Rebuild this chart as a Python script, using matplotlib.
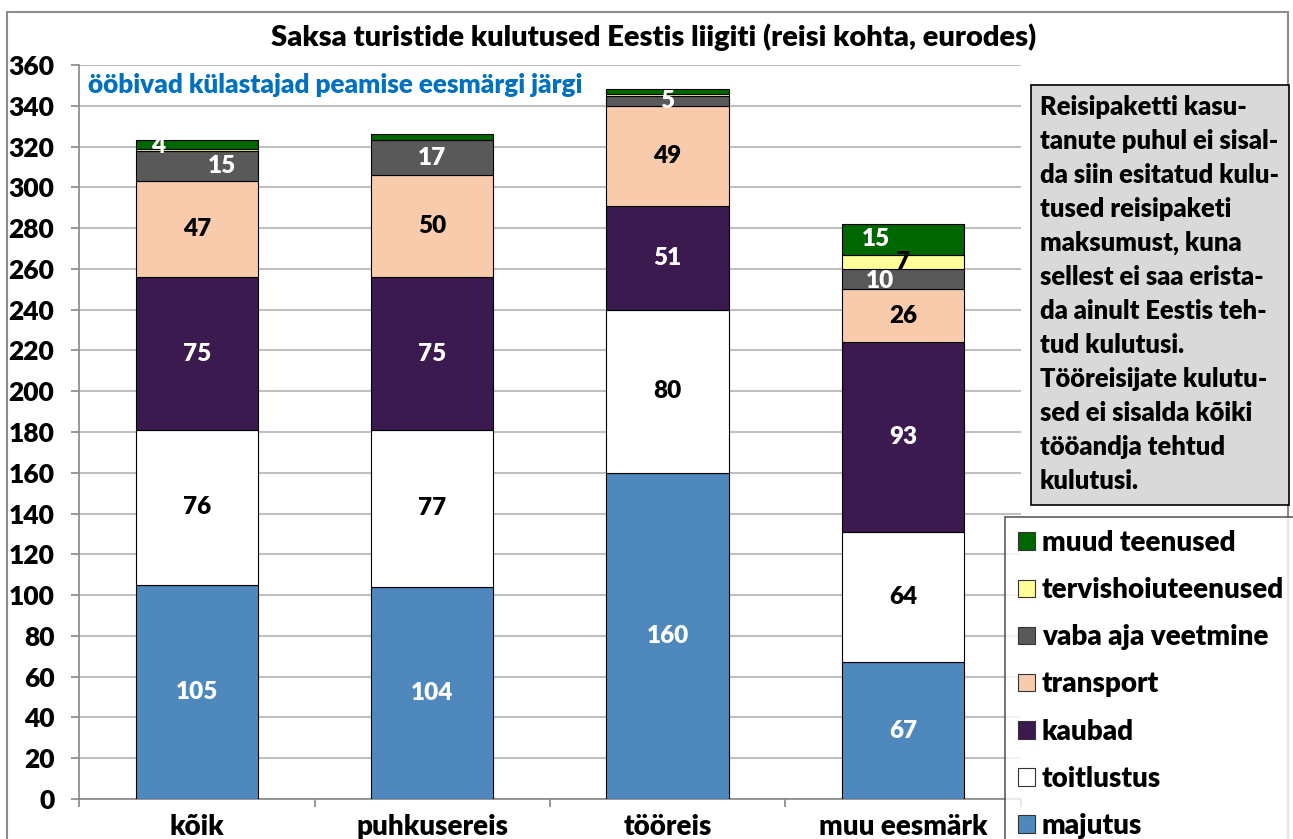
import matplotlib
matplotlib.use("Agg")
import matplotlib.pyplot as plt
from matplotlib.patches import Rectangle, Patch
import numpy as np

plt.rcParams['font.family'] = ['Lato', 'DejaVu Sans']
plt.rcParams['font.weight'] = 'heavy'
WT = 'heavy'

# data (eurot reisi kohta)
categories = ["kõik", "puhkusereis", "tööreis", "muu eesmärk"]
series = ["majutus", "toitlustus", "kaubad", "transport",
          "vaba aja veetmine", "tervishoiuteenused", "muud teenused"]
majutus = [105, 104, 160, 67]
toitlustus = [76, 77, 80, 64]
kaubad = [75, 75, 51, 93]
transport = [47, 50, 49, 26]
vaba_aja = [15, 17, 5, 10]
tervishoid = [1, 0, 1, 7]
muud = [4, 3, 2, 15]
values = [majutus, toitlustus, kaubad, transport, vaba_aja, tervishoid, muud]

title = "Saksa turistide kulutused Eestis liigiti (reisi kohta, eurodes)"
subtitle = "ööbivad külastajad peamise eesmärgi järgi"
note = ("Reisipaketti kasu-\ntanute puhul ei sisal-\nda siin esitatud kulu-\n"
        "tused reisipaketi\nmaksumust, kuna\nsellest ei saa erista-\n"
        "da ainult Eestis teh-\ntud kulutusi.\nTööreisijate kulutu-\n"
        "sed ei sisalda kõiki\ntööandja tehtud\nkulutusi.")

colors = ["#4f88bd", "#ffffff", "#3b1a4f", "#f8cbad", "#595959", "#ffff99", "#006600"]
label_colors = ["white", "black", "white", "black", "white", "black", "white"]
# manual label nudges (category index, series index) -> dx in category units
label_dx = {(0, 4): 0.106, (0, 6): -0.166, (3, 6): -0.115, (3, 4): -0.098}
label_dy = {(0, 6): -0.5, (3, 4): -1.0}

W, H = 1293, 839
fig = plt.figure(figsize=(W / 100, H / 100), dpi=100)

# outer chart frame
fig.patches.append(Rectangle((7 / W, -0.05), 1281 / W, 1.05 - 12 / H,
                             transform=fig.transFigure, fill=False,
                             edgecolor="#8c8c8c", lw=1.5))

ax = fig.add_axes([79.3 / W, 40 / H, 941.2 / W, 734 / H])
x = np.arange(len(categories))
bottom = np.zeros(len(categories))
handles = []
for i, (name, vals) in enumerate(zip(series, values)):
    vals = np.array(vals, dtype=float)
    bars = ax.bar(x, vals, 0.52, bottom=bottom, color=colors[i],
                  edgecolor="black", linewidth=0.8, zorder=3)
    handles.append(Patch(facecolor=colors[i], edgecolor="#333333", linewidth=0.8, label=name))
    for j, v in enumerate(vals):
        if v >= 4:
            ax.text(x[j] + label_dx.get((j, i), 0), bottom[j] + v / 2 + label_dy.get((j, i), 0),
                    f"{v:.0f}", ha="center", va="center", color=label_colors[i],
                    fontsize=17.5, fontweight=WT, zorder=4)
    bottom += vals

ax.set_xlim(-0.5, 3.5)
ax.set_ylim(0, 360)
ax.set_yticks(np.arange(0, 361, 20))
ax.yaxis.grid(True, color="#c0c0c0", lw=1.5, zorder=0)
ax.set_axisbelow(True)
for s in ["top", "right"]:
    ax.spines[s].set_visible(False)
for s in ["left", "bottom"]:
    ax.spines[s].set_color("#868686")
    ax.spines[s].set_linewidth(1.2)
ax.tick_params(axis="y", length=6, width=1.2, color="#868686", pad=12, labelsize=19)
ax.set_xticks(x)
ax.set_xticklabels(categories, fontsize=20, fontweight=WT)
ax.set_xticks(np.arange(-0.5, 4, 1), minor=True)
ax.tick_params(axis="x", which="major", length=0, pad=11)
ax.tick_params(axis="x", which="minor", length=6, width=1.2, color="#868686")
for t in ax.get_yticklabels():
    t.set_fontweight(WT)

fig.text(654 / W, 1 - 37 / H, title, ha="center", va="center", fontsize=21, fontweight=WT)
ax.text(88 / W, 1 - 85 / H, subtitle, transform=fig.transFigure, ha="left", va="center",
        fontsize=18.8, fontweight=WT, color="#0070c0")

# note box
fig.patches.append(Rectangle((1031 / W, 1 - 505 / H), 258 / W, 420 / H,
                             transform=fig.transFigure, facecolor="#d9d9d9",
                             edgecolor="black", lw=1.2))
fig.text(1040 / W, 1 - 95 / H, note, ha="left", va="top", fontsize=18.4,
         fontweight=WT, linespacing=1.5)

leg = fig.legend(handles=handles[::-1], loc="upper left",
                 bbox_to_anchor=(1005 / W, 1 - 517 / H), frameon=True, fancybox=False,
                 edgecolor="#333333", prop={"size": 20, "weight": WT},
                 handlelength=0.6, handleheight=0.6, handletextpad=0.25,
                 labelspacing=0.76, borderpad=0.47, borderaxespad=0)
leg.get_frame().set_linewidth(1.2)

fig.savefig("out.png", dpi=100)
